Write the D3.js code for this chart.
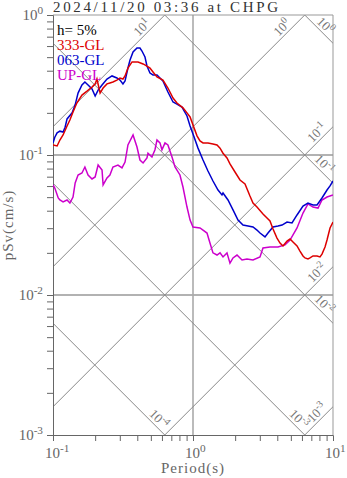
<!DOCTYPE html>
<html>
<head>
<meta charset="utf-8">
<script src="https://cdn.jsdelivr.net/npm/d3@7"></script>
<style>
  body { margin: 0; background: #fff; }
  svg text { font-family: "Liberation Serif", "DejaVu Serif", serif; }
</style>
</head>
<body>
<svg id="spectrum" width="347" height="478"></svg>
<script>
var title = "2024/11/20 03:36 at CHPG";
var legendLabels = ["h= 5%", "333-GL", "063-GL", "UP-GL"];
var seriesColors = ["#dd0000", "#0000cc", "#cc00cc"];

// [period (s), pSv (cm/s)]
var ns333 = [
  [0.100, 0.118], [0.107, 0.116], [0.112, 0.128], [0.118, 0.139], [0.126, 0.161],
  [0.132, 0.178], [0.139, 0.203], [0.148, 0.235], [0.161, 0.268], [0.175, 0.286],
  [0.190, 0.306], [0.200, 0.322], [0.206, 0.349], [0.217, 0.277], [0.228, 0.301],
  [0.243, 0.322], [0.255, 0.327], [0.268, 0.332], [0.286, 0.343], [0.301, 0.355],
  [0.316, 0.349], [0.327, 0.367], [0.343, 0.418], [0.367, 0.462], [0.385, 0.462],
  [0.405, 0.462], [0.440, 0.447], [0.469, 0.432], [0.493, 0.418], [0.518, 0.392],
  [0.553, 0.361], [0.610, 0.343], [0.662, 0.301], [0.720, 0.255], [0.768, 0.235],
  [0.848, 0.217], [0.906, 0.200], [0.953, 0.187], [1.000, 0.164], [1.068, 0.137],
  [1.122, 0.126], [1.179, 0.122], [1.279, 0.122], [1.389, 0.120], [1.484, 0.118],
  [1.560, 0.112], [1.638, 0.103], [1.749, 0.0952], [1.837, 0.0863], [1.995, 0.0756],
  [2.166, 0.0663], [2.352, 0.0621], [2.552, 0.0509], [2.683, 0.0454], [2.864, 0.0425],
  [3.162, 0.0379], [3.378, 0.0355], [3.548, 0.0338], [3.728, 0.0296], [3.981, 0.0255],
  [4.183, 0.0235], [4.394, 0.0224], [4.694, 0.0243], [4.931, 0.0251], [5.179, 0.0239],
  [5.534, 0.0224], [5.808, 0.0206], [6.105, 0.0190], [6.310, 0.0184], [6.624, 0.0181],
  [6.849, 0.0184], [7.197, 0.0190], [7.690, 0.0190], [8.072, 0.0187], [8.343, 0.0196],
  [8.770, 0.0220], [9.063, 0.0247], [9.524, 0.0301], [10.00, 0.0332]
];
var ew063 = [
  [0.100, 0.122], [0.103, 0.134], [0.107, 0.144], [0.112, 0.148], [0.118, 0.146],
  [0.122, 0.158], [0.126, 0.181], [0.137, 0.200], [0.144, 0.228], [0.151, 0.277],
  [0.161, 0.316], [0.169, 0.332], [0.178, 0.316], [0.190, 0.296], [0.200, 0.264],
  [0.210, 0.291], [0.224, 0.316], [0.243, 0.349], [0.264, 0.367], [0.286, 0.355],
  [0.301, 0.343], [0.316, 0.322], [0.327, 0.338], [0.343, 0.418], [0.355, 0.477],
  [0.373, 0.544], [0.398, 0.581], [0.418, 0.581], [0.432, 0.553], [0.454, 0.501],
  [0.469, 0.432], [0.493, 0.385], [0.518, 0.373], [0.553, 0.373], [0.581, 0.355],
  [0.610, 0.338], [0.662, 0.282], [0.720, 0.239], [0.768, 0.231], [0.834, 0.220],
  [0.906, 0.190], [0.953, 0.161], [1.000, 0.141], [1.086, 0.112], [1.179, 0.0921],
  [1.279, 0.0769], [1.389, 0.0652], [1.509, 0.0562], [1.611, 0.0518], [1.638, 0.0535],
  [1.778, 0.0477], [1.931, 0.0405], [2.096, 0.0343], [2.276, 0.0316], [2.472, 0.0311],
  [2.683, 0.0306], [2.864, 0.0291], [3.010, 0.0277], [3.268, 0.0260], [3.433, 0.0277],
  [3.728, 0.0306], [4.047, 0.0311], [4.325, 0.0316], [4.694, 0.0332], [5.095, 0.0327],
  [5.534, 0.0373], [6.105, 0.0432], [6.624, 0.0454], [7.197, 0.0440], [7.690, 0.0440],
  [8.343, 0.0493], [9.063, 0.0562], [9.524, 0.0601], [10.00, 0.0652]
];
var ud = [
  [0.100, 0.0611], [0.103, 0.0581], [0.109, 0.0493], [0.112, 0.0477], [0.118, 0.0462],
  [0.126, 0.0477], [0.132, 0.0454], [0.139, 0.0501], [0.144, 0.0631], [0.151, 0.0720],
  [0.161, 0.0744], [0.169, 0.0821], [0.178, 0.0720], [0.190, 0.0674], [0.200, 0.0697],
  [0.210, 0.0848], [0.224, 0.0782], [0.228, 0.0611], [0.243, 0.0685], [0.255, 0.0720],
  [0.268, 0.0821], [0.291, 0.0848], [0.311, 0.0808], [0.327, 0.0891], [0.343, 0.118],
  [0.373, 0.139], [0.398, 0.114], [0.418, 0.0921], [0.440, 0.0877], [0.469, 0.0952],
  [0.477, 0.103], [0.509, 0.0968], [0.535, 0.109], [0.553, 0.128], [0.581, 0.122],
  [0.600, 0.109], [0.631, 0.122], [0.662, 0.118], [0.708, 0.0968], [0.744, 0.0821],
  [0.807, 0.0720], [0.848, 0.0591], [0.906, 0.0425], [0.953, 0.0343], [1.000, 0.0306],
  [1.122, 0.0301], [1.259, 0.0277], [1.322, 0.0235], [1.389, 0.0200], [1.484, 0.0193],
  [1.560, 0.0200], [1.638, 0.0187], [1.749, 0.0200], [1.837, 0.0169], [1.931, 0.0184],
  [2.062, 0.0193], [2.239, 0.0178], [2.430, 0.0181], [2.683, 0.0178], [3.010, 0.0187],
  [3.162, 0.0217], [3.548, 0.0220], [4.047, 0.0220], [4.541, 0.0228], [4.931, 0.0247],
  [5.534, 0.0301], [6.105, 0.0385], [6.624, 0.0447], [7.197, 0.0425], [7.817, 0.0418],
  [8.343, 0.0477], [9.063, 0.0501], [10.00, 0.0518]
];

var xTicks = [0.1, 1, 10];
var yTicks = [1, 0.1, 0.01, 0.001];
var accLines = [10, 1, 0.1, 0.01, 0.001];      // gal
var dispLines = [1, 0.1, 0.01, 0.001, 0.0001]; // cm

var svg = d3.select("#spectrum"),
  margin = { left: 53, top: 15 },
  width = 280,
  height = 420;

var xScale = d3.scaleLog().domain([0.1, 10]).range([0, width]),
  yScale = d3.scaleLog().domain([0.001, 1]).range([height, 0]);

var g = svg.append("g").attr("transform", "translate(" + margin.left + "," + margin.top + ")");

svg.append("defs").append("clipPath").attr("id", "plotclip")
  .append("rect").attr("width", width).attr("height", height);

var twoPi = 2 * Math.PI;

// exponent text helper
function powText(sel, e, size) {
  sel.append("tspan").text("10");
  sel.append("tspan").attr("dy", -size * 0.4).style("font-size", size * 0.75 + "px").text(e);
}

// grid
g.selectAll(".hgrid").data([0.1, 0.01]).enter().append("line")
  .attr("x1", 0).attr("x2", width)
  .attr("y1", (d) => yScale(d)).attr("y2", (d) => yScale(d))
  .attr("stroke", "#999").attr("stroke-width", 1.4);
g.append("line")
  .attr("x1", xScale(1)).attr("x2", xScale(1)).attr("y1", 0).attr("y2", height)
  .attr("stroke", "#aaa").attr("stroke-width", 1.6);

// tripartite diagonals
var diag = g.append("g").attr("clip-path", "url(#plotclip)");
diag.selectAll(".acc").data(accLines).enter().append("line")
  .attr("x1", xScale(0.01)).attr("y1", (d) => yScale(d * 0.01 / twoPi))
  .attr("x2", xScale(100)).attr("y2", (d) => yScale(d * 100 / twoPi))
  .attr("stroke", "#888").attr("stroke-width", 1);
diag.selectAll(".disp").data(dispLines).enter().append("line")
  .attr("x1", xScale(0.01)).attr("y1", (d) => yScale(twoPi * d / 0.01))
  .attr("x2", xScale(100)).attr("y2", (d) => yScale(twoPi * d / 100))
  .attr("stroke", "#888").attr("stroke-width", 1);

// diagonal labels
accLines.forEach(function (a) {
  var tTop = twoPi / a, onTop = tTop < 10;
  var t = onTop ? tTop : 10;
  var ex = xScale(t), ey = yScale(a * t / twoPi);
  var back = onTop ? 16 : 5;
  var txt = g.append("text")
    .attr("transform", "translate(" + ex + "," + ey + ")rotate(-45)")
    .attr("x", -back).attr("y", -3)
    .attr("text-anchor", "end")
    .style("font-size", "13px").style("fill", "#777");
  powText(txt, Math.round(Math.log10(a)), 13);
});
dispLines.forEach(function (s) {
  var tBot = twoPi * s / 0.001, onBot = tBot < 10;
  var t = onBot ? tBot : 10;
  var ex = xScale(t), ey = yScale(twoPi * s / t);
  var back = onBot ? 5 : 9;
  var txt = g.append("text")
    .attr("transform", "translate(" + ex + "," + ey + ")rotate(45)")
    .attr("x", -back).attr("y", -3)
    .attr("text-anchor", "end")
    .style("font-size", "13px").style("fill", "#777");
  powText(txt, Math.round(Math.log10(s)), 13);
});

// frame
g.append("line").attr("x1", 0).attr("x2", width).attr("y1", 0).attr("y2", 0).attr("stroke", "#999");
g.append("line").attr("x1", width).attr("x2", width).attr("y1", 0).attr("y2", height).attr("stroke", "#999");

// axes with minor ticks
var minor = [];
[0.001, 0.01, 0.1, 1].forEach(function (d) {
  for (var i = 1; i < 10; i++) minor.push(d * i);
});
var yAxis = g.append("g")
  .call(d3.axisLeft(yScale).tickValues(minor.filter((v) => v <= 1.0001)).tickSize(6).tickFormat(""));
var xAxis = g.append("g").attr("transform", "translate(0," + height + ")")
  .call(d3.axisBottom(xScale).tickValues(minor.filter((v) => v >= 0.0999 && v <= 10.001)).tickSize(6).tickFormat(""));
svg.selectAll(".domain").attr("stroke", "#666");
svg.selectAll(".tick line").attr("stroke", "#666");

yTicks.forEach(function (v) {
  var txt = g.append("text")
    .attr("x", -10).attr("y", yScale(v) + 5)
    .attr("text-anchor", "end")
    .style("font-size", "15px").style("fill", "#666");
  powText(txt, Math.round(Math.log10(v)), 15);
});
xTicks.forEach(function (v) {
  var txt = g.append("text")
    .attr("x", xScale(v) - 8).attr("y", height + 23)
    .style("font-size", "15px").style("fill", "#666");
  powText(txt, Math.round(Math.log10(v)), 15);
});

// axis titles
svg.append("text")
  .attr("x", margin.left + width / 2).attr("y", 473)
  .attr("text-anchor", "middle")
  .style("font-size", "15px").style("fill", "#666").style("letter-spacing", "1px")
  .text("Period(s)");
svg.append("text")
  .attr("transform", "translate(13," + (margin.top + height / 2) + ")rotate(-90)")
  .attr("text-anchor", "middle")
  .style("font-size", "15px").style("fill", "#666").style("letter-spacing", "1px")
  .text("pSv(cm/s)");

// title
svg.append("text")
  .attr("x", margin.left).attr("y", 12)
  .style("font-size", "15px").style("fill", "#333").style("letter-spacing", "2.65px")
  .text(title);

// curves
var line = d3.line()
  .x((d) => xScale(d[0]))
  .y((d) => yScale(d[1]));
var curves = g.append("g").attr("clip-path", "url(#plotclip)");
[ud, ew063, ns333].forEach(function (s) {
  var idx = s === ns333 ? 0 : s === ew063 ? 1 : 2;
  curves.append("path")
    .datum(s)
    .attr("d", line)
    .attr("fill", "none")
    .attr("stroke", seriesColors[idx])
    .attr("stroke-width", 1.5);
});

// legend
g.selectAll(".legend").data(legendLabels).enter().append("text")
  .attr("x", 4).attr("y", (d, i) => 20 + i * 15)
  .style("font-size", "15px")
  .style("fill", (d, i) => (i === 0 ? "#000" : seriesColors[i - 1]))
  .text((d) => d);
</script>
</body>
</html>
